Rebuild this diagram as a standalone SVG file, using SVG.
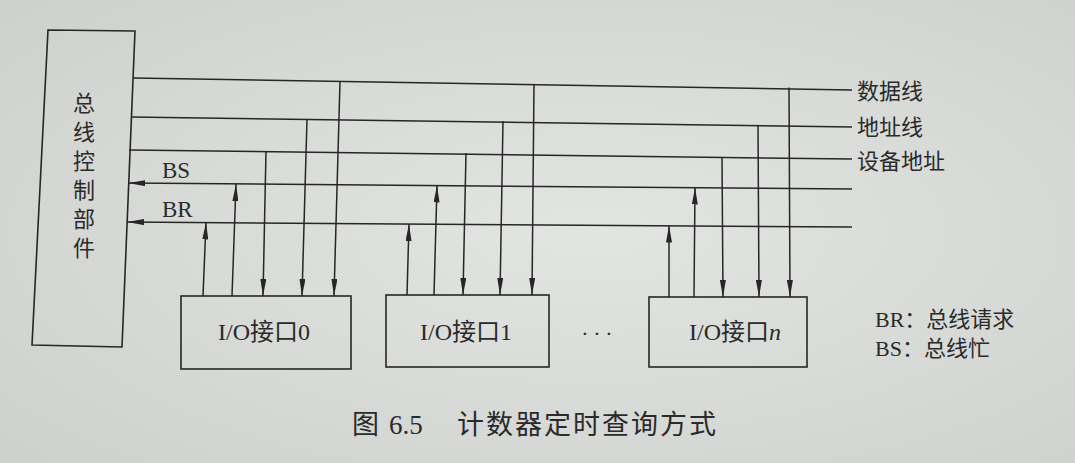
<svg xmlns="http://www.w3.org/2000/svg" width="1075" height="463" viewBox="0 0 1075 463">
<style>
.ln{stroke:#262626;stroke-width:1.5;fill:none}
.bx{stroke:#262626;stroke-width:1.6;fill:none}
.t{font-family:"Liberation Serif","Noto Sans CJK SC",serif;fill:#2a2a2a}
.c{font-family:"Noto Sans CJK SC",sans-serif;fill:#2a2a2a}
.arr{marker-end:url(#ah)}
</style>
<defs>
<radialGradient id="bg" cx="0.55" cy="0.5" r="0.75">
<stop offset="0" stop-color="#e3e5e2"/>
<stop offset="1" stop-color="#cdd0cc"/>
</radialGradient>
<marker id="ah" viewBox="0 0 17 6" refX="17" refY="3" markerWidth="17" markerHeight="6" markerUnits="userSpaceOnUse" orient="auto">
<path d="M0,0 L17,3 L0,6 z" fill="#262626"/>
</marker>
</defs>
<rect width="1075" height="463" fill="url(#bg)"/>

<g id="controller">
<polygon class="bx" points="48,30 135,31 122,347 32,345"/>
<text class="c" font-size="22" writing-mode="vertical-rl" letter-spacing="7" x="84" y="92">总线控制部件</text>
</g>

<g id="connectors">
<!-- buses -->
<line class="ln" x1="133" y1="78" x2="852" y2="90"/>
<line class="ln" x1="131" y1="117" x2="852" y2="127"/>
<line class="ln" x1="129" y1="150" x2="852" y2="159"/>
<line class="ln arr" x1="852" y1="189" x2="128" y2="183"/>
<line class="ln arr" x1="852" y1="227" x2="127" y2="222"/>
<!-- io0 -->
<line class="ln arr" x1="203" y1="296" x2="206" y2="222.5"/>
<line class="ln arr" x1="232" y1="296" x2="236" y2="184"/>
<line class="ln arr" x1="266" y1="151" x2="263" y2="296"/>
<line class="ln arr" x1="307" y1="119" x2="302" y2="296"/>
<line class="ln arr" x1="340" y1="81.5" x2="334" y2="296"/>
<!-- io1 -->
<line class="ln arr" x1="407" y1="295" x2="409" y2="224"/>
<line class="ln arr" x1="434" y1="295" x2="437" y2="185.5"/>
<line class="ln arr" x1="466" y1="153" x2="463" y2="295"/>
<line class="ln arr" x1="503" y1="121" x2="500" y2="295"/>
<line class="ln arr" x1="534" y1="84.5" x2="532" y2="295"/>
<!-- ion -->
<line class="ln arr" x1="669" y1="297" x2="669" y2="225.5"/>
<line class="ln arr" x1="694" y1="297" x2="695" y2="187.5"/>
<line class="ln arr" x1="722" y1="157" x2="723" y2="297"/>
<line class="ln arr" x1="758" y1="125" x2="759" y2="297"/>
<line class="ln arr" x1="789" y1="87.5" x2="790" y2="297"/>
</g>

<g id="bus-labels">
<text class="t" font-size="23" x="162" y="178">BS</text>
<text class="t" font-size="23" x="162" y="217">BR</text>
<text class="c" font-size="22" x="857" y="99">数据线</text>
<text class="c" font-size="22" x="857" y="135">地址线</text>
<text class="c" font-size="22" x="857" y="169">设备地址</text>
</g>

<g id="io0">
<rect class="bx" x="181" y="296" width="170" height="73"/>
<text class="t" font-size="24" text-anchor="middle" x="264" y="340">I/O接口0</text>
</g>
<g id="io1">
<rect class="bx" x="386" y="295" width="163" height="72"/>
<text class="t" font-size="24" text-anchor="middle" x="466" y="340">I/O接口1</text>
</g>
<g id="ellipsis">
<text class="t" font-size="22" text-anchor="middle" x="585 597 609" y="341">···</text>
</g>
<g id="ion">
<rect class="bx" x="649" y="297" width="158" height="70"/>
<text class="t" font-size="24" text-anchor="middle" x="735" y="340">I/O接口<tspan font-style="italic">n</tspan></text>
</g>

<g id="legend">
<text class="t" font-size="22" x="875" y="327">BR：总线请求</text>
<text class="t" font-size="22" x="875" y="356">BS：总线忙</text>
</g>

<g id="caption">
<text class="t" font-size="27" y="434"><tspan x="352">图</tspan><tspan x="389">6.5</tspan><tspan x="457" letter-spacing="2">计数器定时查询方式</tspan></text>
</g>
</svg>
